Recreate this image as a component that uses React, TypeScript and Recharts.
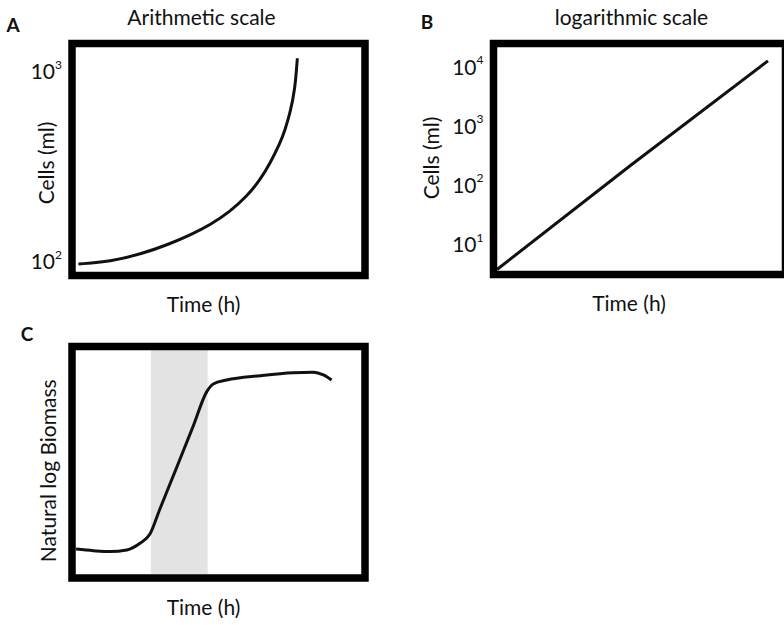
import { LineChart, Line, XAxis, YAxis, ReferenceArea } from 'recharts'

const FONT = 'Lato, "Noto Sans", sans-serif'
const INK = '#111'

// Panel A: arithmetic scale
const timeA = [2.2, 13, 24.2, 33.4, 40.3, 47.1, 53.9, 59.6, 64.2, 67.6, 71, 72.7, 74.4, 76.1, 76.9]
const cellsA = [84.5, 95.4, 134, 180, 222, 269, 333, 404, 483, 562, 657, 720, 799, 910, 1060]
const ticksA = [100, 1000]
const domainA = [30, 1130]

// Panel B: logarithmic scale
const timeB = [1.2, 47, 94]
const cellsB = [3.65, 210, 12200]
const ticksB = [10, 100, 1000, 10000]
const domainB = [3, 24000]

// Panel C: growth curve, shaded exponential phase
const timeC = [1.4, 7.3, 13, 18.7, 23.2, 26.6, 30, 35.7, 41.4, 46, 48.2, 52.8, 64.2, 75.5, 82.4, 85.8, 88.6]
const biomassC = [12.5, 11.8, 11.4, 12.1, 15, 19, 29.8, 47.7, 65.7, 80.5, 83.8, 85.5, 87.4, 88.7, 88.9, 87.7, 85.5]
const expPhase = [26.9, 46.3]

const dataA = timeA.map((t, i) => ({ t, cells: cellsA[i] }))
const dataB = timeB.map((t, i) => ({ t, cells: cellsB[i] }))
const dataC = timeC.map((t, i) => ({ t, biomass: biomassC[i] }))

const PowerTick = ({ x, y, payload }: any) => {
  const exponent = Math.round(Math.log10(payload.value))
  return (
    <text x={x} y={y} textAnchor="end" dominantBaseline="central" fontSize={21} fill={INK} fontFamily={FONT}>
      10<tspan dy={-7} fontSize={12}>{exponent}</tspan>
    </text>
  )
}

const axisTitle = (text: string, dx: number, dy: number, vertical = false) => (props: any) => {
  const { x, y, width, height } = props.viewBox
  const cx = x + width / 2 + dx
  const cy = y + height / 2 + dy
  return (
    <text
      x={cx}
      y={cy}
      textAnchor="middle"
      dominantBaseline="central"
      transform={vertical ? `rotate(-90, ${cx}, ${cy})` : undefined}
      fontSize={21}
      fill={INK}
      fontFamily={FONT}
    >
      {text}
    </text>
  )
}

const Title = ({ cx, cy, text }: { cx: number; cy: number; text: string }) => (
  <div style={{ position: 'absolute', left: cx - 150, top: cy - 13, width: 300, lineHeight: '26px', textAlign: 'center', fontSize: 21, color: INK }}>
    {text}
  </div>
)

const Letter = ({ cx, cy, text }: { cx: number; cy: number; text: string }) => (
  <div style={{ position: 'absolute', left: cx - 15, top: cy - 12, width: 30, lineHeight: '24px', textAlign: 'center', fontSize: 19, fontWeight: 700, color: INK }}>
    {text}
  </div>
)

const frame = { fill: 'none', stroke: '#000', strokeWidth: 7.5, ifOverflow: 'visible' as const }

export default function App() {
  return (
    <div style={{ position: 'absolute', left: 0, top: 0, width: 784, height: 625, overflow: 'hidden', background: '#fff', fontFamily: FONT }}>
      <Letter cx={13} cy={25} text="A" />
      <Title cx={201.5} cy={17} text="Arithmetic scale" />
      <Letter cx={427} cy={22} text="B" />
      <Title cx={631.5} cy={17} text="logarithmic scale" />
      <Letter cx={27} cy={334} text="C" />

      <div style={{ position: 'absolute', left: 0, top: 0 }}>
        <LineChart width={380} height={331} data={dataA} margin={{ top: 43.5, right: 15, bottom: 0.5, left: 18 }}>
          <XAxis type="number" dataKey="t" domain={[0, 100]} tick={false} axisLine={false} tickLine={false} height={55} label={axisTitle('Time (h)', -15, 0)} />
          <YAxis
            type="number"
            domain={domainA}
            allowDataOverflow
            ticks={ticksA}
            tick={<PowerTick />}
            width={54}
            axisLine={false}
            tickLine={false}
            tickSize={0}
            tickMargin={10}
            label={axisTitle('Cells (ml)', 0, 3.5, true)}
          />
          <Line dataKey="cells" type="basis" stroke={INK} strokeWidth={3} dot={false} isAnimationActive={false} />
          <ReferenceArea x1={0} x2={100} y1={domainA[0]} y2={domainA[1]} {...frame} />
        </LineChart>
      </div>

      <div style={{ position: 'absolute', left: 360, top: 0 }}>
        <LineChart width={440} height={331} data={dataB} margin={{ top: 43.5, right: 14.5, bottom: 1.5, left: 6.5 }}>
          <XAxis type="number" dataKey="t" domain={[0, 100]} tick={false} axisLine={false} tickLine={false} height={55} label={axisTitle('Time (h)', -10.5, 0)} />
          <YAxis
            type="number"
            scale="log"
            domain={domainB}
            allowDataOverflow
            ticks={ticksB}
            tick={<PowerTick />}
            width={127}
            axisLine={false}
            tickLine={false}
            tickSize={0}
            tickMargin={10}
            label={axisTitle('Cells (ml)', 0, -1, true)}
          />
          <Line dataKey="cells" type="linear" stroke={INK} strokeWidth={3} dot={false} isAnimationActive={false} />
          <ReferenceArea x1={0} x2={100} y1={domainB[0]} y2={domainB[1]} {...frame} />
        </LineChart>
      </div>

      <div style={{ position: 'absolute', left: 0, top: 320 }}>
        <LineChart width={380} height={315} data={dataC} margin={{ top: 26.5, right: 15, bottom: 1, left: 22 }}>
          <XAxis type="number" dataKey="t" domain={[0, 100]} tick={false} axisLine={false} tickLine={false} height={56} label={axisTitle('Time (h)', -15, 0)} />
          <YAxis type="number" domain={[0, 100]} tick={false} width={50} axisLine={false} tickLine={false} label={axisTitle('Natural log Biomass', 0, 8.5, true)} />
          <ReferenceArea x1={expPhase[0]} x2={expPhase[1]} y1={1.7} y2={100} fill="#e3e3e3" fillOpacity={1} stroke="none" ifOverflow="visible" />
          <Line dataKey="biomass" type="monotone" stroke={INK} strokeWidth={3} dot={false} isAnimationActive={false} />
          <ReferenceArea x1={0} x2={100} y1={0} y2={100} {...frame} />
        </LineChart>
      </div>
    </div>
  )
}
